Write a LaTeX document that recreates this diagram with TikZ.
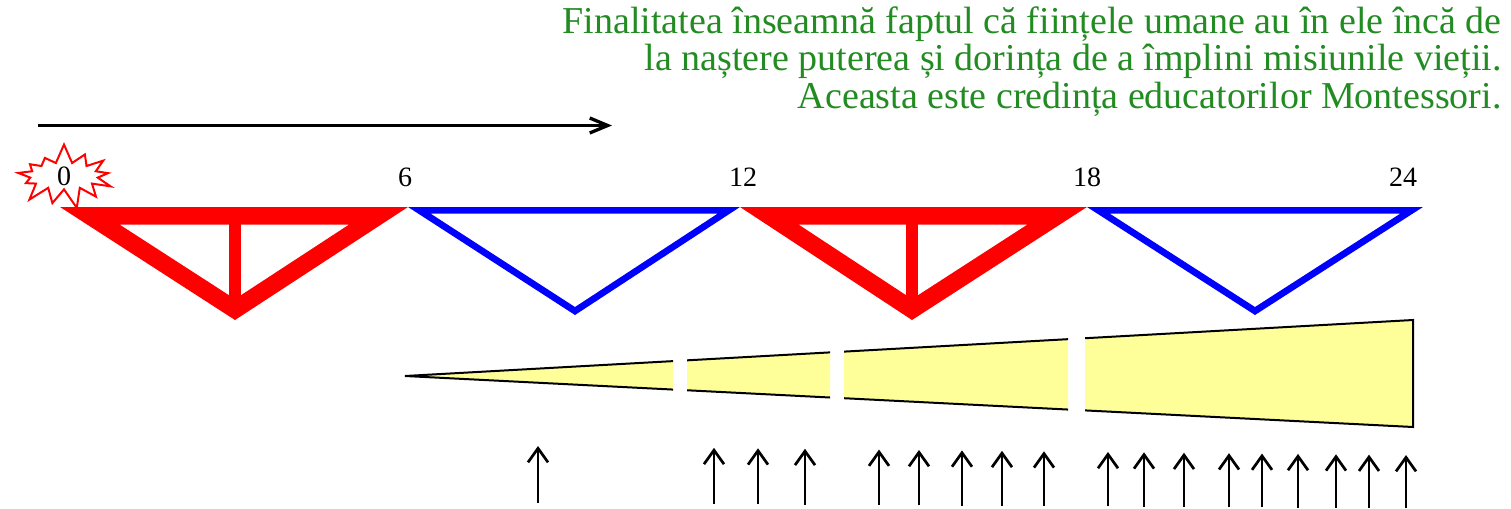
\documentclass[tikz,border=0pt]{standalone}
\usepackage{fontspec}
\setmainfont{Liberation Serif}
\usetikzlibrary{calc,arrows.meta,shapes.symbols}

\definecolor{quotegreen}{RGB}{34,139,34}
\definecolor{wedgeyellow}{RGB}{255,255,153}
\definecolor{trussred}{RGB}{255,0,0}
\definecolor{trussblue}{RGB}{0,0,255}

\tikzset{
  age/.style={font=\fontsize{14}{16}\selectfont, inner sep=0pt},
  burst/.style={starburst, draw=trussred, fill=white, line width=1pt,
    minimum width=54pt, minimum height=31pt, starburst points=13,
    starburst point height=10pt, random starburst=7, inner sep=0pt},
  redtruss/.style={fill=trussred, even odd rule},
  bluetruss/.style={fill=trussblue, even odd rule},
  wedge/.style={fill=wedgeyellow, draw=black, line width=1pt},
  uparrow/.style={-{Straight Barb[length=7pt,width=10pt]}, line width=1.35pt},
}

\begin{document}
\begin{tikzpicture}[x=0.5pt,y=-0.5pt]
\useasboundingbox (0,0) rectangle (1511,509);

% quote
\node[anchor=north east, align=right, text=quotegreen, inner sep=0pt,
  font=\fontsize{19}{18.75}\selectfont] (quote) at (1502,6)
  {Finalitatea înseamnă faptul că ființele umane au în ele încă de\\
   la naștere puterea și dorința de a împlini misiunile vieții.\\
   Aceasta este credința educatorilor Montessori.};

% time arrow
\coordinate (t0) at (38,125.5);
\coordinate (t1) at (612,125.5);
\draw[-{Straight Barb[length=9pt,width=7.5pt]}, line width=1.65pt] (t0) -- (t1);

% birth
\node[burst, age] (n0) at (64,176) {0};

% planes of development
\foreach \a/\b/\c in {60/408/235, 740/1087/912} {
  \fill[redtruss] (\a,207) -- (\b,207) -- (\c,320) -- cycle
    ($(\c,258.5)!0.66!(\a,207)$) -- ($(\c,258.5)!0.66!(\b,207)$)
    -- ($(\c,258.5)!0.66!(\c,320)$) -- cycle;
  \fill[trussred] ({\c-6},210) rectangle ({\c+6},310);
}
\foreach \a/\b/\c in {408/740/575, 1087/1423/1255} {
  \fill[bluetruss] (\a,207) -- (\b,207) -- (\c,315) -- cycle
    ($(\c,256.3)!0.864!(\a,207)$) -- ($(\c,256.3)!0.864!(\b,207)$)
    -- ($(\c,256.3)!0.864!(\c,315)$) -- cycle;
}

% ages
\node[age] (n6) at (405,177) {6};
\node[age] (n12) at (743,177) {12};
\node[age] (n18) at (1087,177) {18};
\node[age] (n24) at (1403,177) {24};

% growing wedge
\coordinate (tip) at (405,376);
\coordinate (rt) at (1413,320);
\coordinate (rb) at (1413,427);
\begin{scope}
  \clip (395,300) rectangle (673,450) (687,300) rectangle (830,450)
    (844,300) rectangle (1068,450) (1085,300) rectangle (1425,450);
  \filldraw[wedge] (tip) -- (rt) -- (rb) -- cycle;
\end{scope}

% arrows below
\foreach \x in {538,714,758,805,879,919,962,1002,1044,1108,1144,1184,1229,1262,1298,1336,1369,1406}
  \draw[uparrow] (\x,{503+0.006*(\x-538)}) -- (\x,{446+0.0104*(\x-538)});
\end{tikzpicture}
\end{document}
